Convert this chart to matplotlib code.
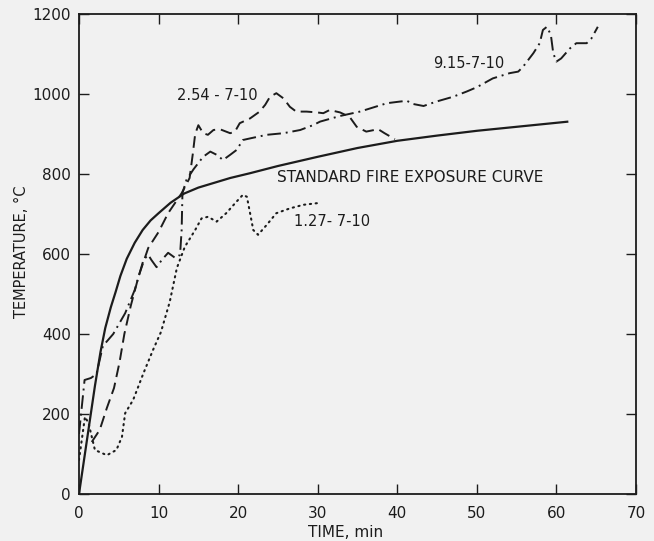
import numpy as np
import matplotlib
matplotlib.use("Agg")
import matplotlib.pyplot as plt

# Standard fire exposure curve
std_t = [0, 1.0, 2.0, 2.7, 3.3, 4.0, 4.6, 5.2, 6.0, 7.0, 8.0, 9.0, 10.0, 11.5, 13.2, 15.0,
         17.0, 19.0, 21.5, 25.0, 30.0, 35.0, 40.0, 45.0, 50.0, 55.0, 61.5]
std_T = [0, 135, 270, 355, 415, 467, 505, 545, 588, 628, 660, 684, 702, 728, 751, 766,
         778, 790, 802, 820, 843, 865, 883, 896, 908, 918, 931]

# 2.54-7-10 (dashed)
d254_t = [1.6, 2.6, 3.5, 4.4, 5.1, 5.7, 6.5, 7.5, 8.7, 10.0, 11.2, 12.9, 13.9, 14.3, 14.6,
          15.0, 15.6, 16.2, 16.9, 17.7, 19.0, 19.6, 20.2, 21.5, 22.7, 23.4, 24.0, 24.8,
          25.7, 26.5, 27.3, 28.6, 29.9, 30.7, 31.5, 32.8, 34.0, 34.9, 36.1, 37.6, 38.4, 39.7]
d254_T = [130, 160, 215, 265, 330, 400, 470, 545, 615, 655, 702, 752, 790, 850, 900,
          922, 902, 898, 910, 912, 902, 906, 927, 939, 956, 973, 993, 1002,
          989, 968, 956, 956, 954, 952, 960, 954, 943, 918, 906, 912, 902, 887]

# 9.15-7-10 (dash-dot)
d915_t = [0.0, 0.7, 1.5, 2.2, 3.0, 4.3, 5.8, 7.0, 8.1, 8.7, 9.1, 9.75, 10.4, 11.2, 12.1, 12.7,
          12.9, 13.0, 13.5, 14.4, 15.6, 16.5, 17.3, 18.1, 19.0, 19.8, 20.6, 21.5, 23.6, 25.7,
          27.8, 29.4, 30.3, 32.8, 35.3, 38.7, 40.3, 41.2, 42.0, 43.3, 44.9, 47.0, 48.7, 50.0,
          52.0, 54.1, 55.2, 55.8, 57.1, 57.9, 58.3, 58.8, 59.3, 59.6, 60.0, 60.6, 61.7, 62.5,
          63.8, 64.4, 65.2]
d915_T = [150, 285, 290, 300, 370, 400, 452, 510, 585, 598, 585, 567, 585, 603, 590, 598,
          660, 752, 785, 812, 843, 856, 848, 835, 848, 860, 885, 889, 898, 902,
          910, 922, 931, 945, 956, 977, 981, 983, 975, 970, 981, 993, 1006, 1017,
          1039, 1052, 1056, 1068, 1102, 1127, 1160, 1168, 1148, 1102, 1081, 1089, 1114, 1127,
          1127, 1139, 1168]

# 1.27-7-10 (dotted)
d127_t = [0.0, 0.75, 1.2, 2.0, 3.5, 4.7, 5.4, 5.8, 6.8, 8.1, 9.3, 10.3, 11.4, 12.3, 13.3,
          14.6, 15.4, 16.2, 17.3, 18.5, 19.8, 20.6, 21.1, 21.5, 21.9, 22.5, 23.6, 24.8,
          26.5, 28.2, 29.9]
d127_T = [85, 193, 177, 110, 97, 110, 143, 202, 235, 302, 360, 405, 480, 565, 618,
          660, 689, 693, 681, 702, 731, 748, 743, 702, 660, 648, 673, 702,
          714, 723, 727]

x_ticks = [0, 10, 20, 30, 40, 50, 60, 70]
y_ticks = [0, 200, 400, 600, 800, 1000, 1200]

bg = "#f1f1f1"
ink = "#1c1c1c"

fig = plt.figure(figsize=(6.54, 5.41), dpi=100, facecolor=bg)
ax = fig.add_axes([79/654, 47/541, (636-79)/654, (494-14)/541], facecolor=bg)

ax.plot(std_t, std_T, color=ink, lw=1.6, solid_capstyle="butt", solid_joinstyle="round")
ax.plot(d254_t, d254_T, color=ink, lw=1.4, dashes=(6, 3))
ax.plot(d915_t, d915_T, color=ink, lw=1.4, dashes=(7, 2.5, 1, 2.5))
ax.plot(d127_t, d127_T, color=ink, lw=1.5, dashes=(0.6, 2.2), dash_capstyle="round")

ax.set_xlim(0, 70)
ax.set_ylim(0, 1200)
ax.set_xticks(x_ticks)
ax.set_yticks(y_ticks)
ax.tick_params(direction="in", length=7, width=1, colors=ink, labelsize=11,
               top=True, right=True)
ax.tick_params(axis="x", pad=9)
ax.tick_params(axis="y", pad=6)
for s in ax.spines.values():
    s.set_color(ink)
    s.set_linewidth(1.3)

ax.set_xlabel("TIME, min", fontsize=11, color=ink)
ax.xaxis.set_label_coords((346-79)/557, -(525-494)/480, transform=ax.transAxes)
ax.set_ylabel("TEMPERATURE, °C", fontsize=10.5, color=ink)
ax.yaxis.set_label_coords(-(79-29)/557, (494-252)/480, transform=ax.transAxes)

ax.text(17.4, 995, "2.54 - 7-10", fontsize=10.5, color=ink, ha="center", va="center")
ax.text(49.0, 1075, "9.15-7-10", fontsize=10.5, color=ink, ha="center", va="center")
ax.text(41.6, 790, "STANDARD FIRE EXPOSURE CURVE", fontsize=11, color=ink,
        ha="center", va="center")
ax.text(31.8, 680, "1.27- 7-10", fontsize=10.5, color=ink, ha="center", va="center")

fig.savefig("out.png", dpi=100, facecolor=bg)
